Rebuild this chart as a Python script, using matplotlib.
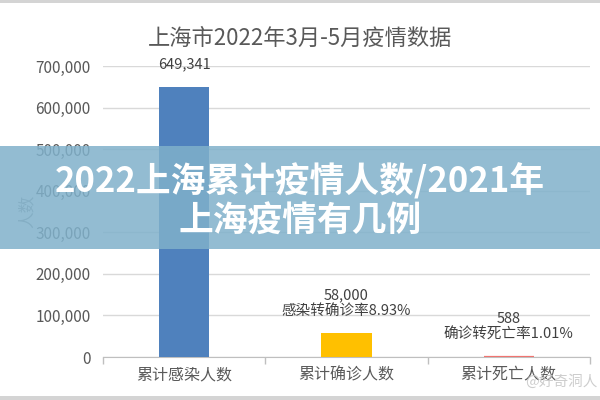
import matplotlib
matplotlib.use("Agg")
import matplotlib.pyplot as plt
from matplotlib.patches import Rectangle
from matplotlib.ticker import FuncFormatter, FixedLocator

plt.rcParams['font.family'] = ['Noto Sans CJK SC', 'DejaVu Sans']

categories = ["累计感染人数", "累计确诊人数", "累计死亡人数"]
values = [649341, 58000, 588]
value_labels = ["649,341", "58,000\n感染转确诊率8.93%", "588\n确诊转死亡率1.01%"]
bar_colors = ["#4f81bd", "#ffc000", "#f07470"]
title = "上海市2022年3月-5月疫情数据"
ylabel = "人数"
banner = "2022上海累计疫情人数/2021年\n上海疫情有几例"
yticks = [0, 100000, 200000, 300000, 400000, 500000, 600000, 700000]

fig = plt.figure(figsize=(6, 4), dpi=100)
ax = fig.add_axes([0.172, 0.1075, 0.811, 0.7275])

x = list(range(len(categories)))
bars = ax.bar(x, values, width=0.31, color=bar_colors, zorder=3)
# make tiny bar visible as a thin line
bars[2].set_edgecolor(bar_colors[2])
bars[2].set_linewidth(1.6)

ax.set_xlim(-0.5, 2.5)
ax.set_ylim(0, 700000)
ax.set_yticks(yticks)
ax.yaxis.set_major_formatter(FuncFormatter(lambda v, p: f"{int(v):,}"))
ax.tick_params(axis='y', length=0, labelsize=11, labelcolor="#595959", pad=9)
ax.grid(axis='y', color="#d9d9d9", linewidth=1, zorder=0)

ax.set_xticks(x)
ax.set_xticklabels(categories, fontsize=11.5, color="#595959")
ax.tick_params(axis='x', which='major', length=0, pad=7)
ax.xaxis.set_minor_locator(FixedLocator([-0.5, 0.5, 1.5, 2.5]))
ax.tick_params(axis='x', which='minor', length=5, color="#bfbfbf", width=1)

for s in ['left', 'right', 'top']:
    ax.spines[s].set_visible(False)
ax.spines['bottom'].set_color("#bfbfbf")

for xi, v, lab in zip(x, values, value_labels):
    ax.annotate(lab, (xi, v), xytext=(0, 11), textcoords='offset points',
                ha='center', va='bottom', fontsize=10.5, color="#404040",
                linespacing=1.1)

ax.set_ylabel(ylabel, fontsize=12, color="#a0a0a0")
ax.yaxis.set_label_coords(-0.14, 0.5)

fig.text(0.5, 0.905, title, ha='center', va='center', fontsize=16, color="#595959")

# overlay banner
fig.patches.append(Rectangle((0, 0.3775), 1, 0.2575, transform=fig.transFigure,
                             facecolor="#80b1cb", alpha=0.85, zorder=10, edgecolor='none'))
fig.text(0.5, 0.497, banner, ha='center', va='center', fontsize=25, color="white",
         fontweight='bold', linespacing=1.15, zorder=11)

# gray frame strips
fig.patches.append(Rectangle((0, 0.992), 1, 0.008, transform=fig.transFigure,
                             facecolor="#d4d4d4", edgecolor='none', zorder=12))
fig.patches.append(Rectangle((0, 0), 1, 0.01, transform=fig.transFigure,
                             facecolor="#d4d4d4", edgecolor='none', zorder=12))

# watermark
fig.text(0.995, 0.045, "@好奇洞人", ha='right', va='center', fontsize=10.5,
         color="#c8c8c8", alpha=0.9, zorder=12)

fig.savefig("out.png", dpi=100)
